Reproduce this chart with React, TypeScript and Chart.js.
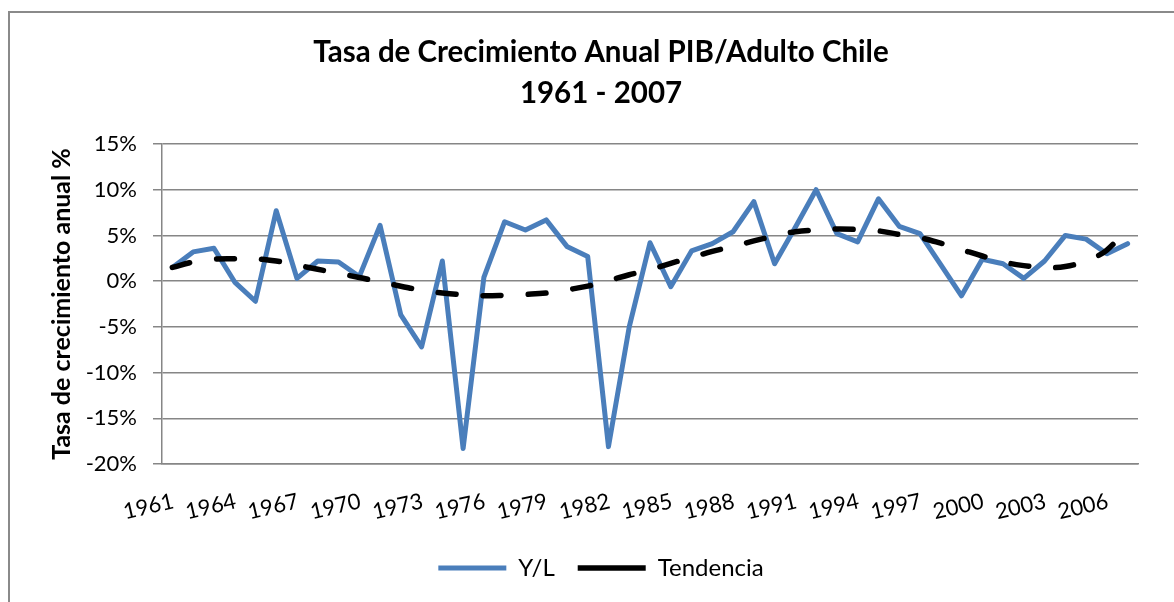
import React, { useEffect, useRef } from 'react';
import { Chart, registerables } from 'chart.js';

Chart.register(...registerables);

const years = [
  '1961', '1962', '1963', '1964', '1965', '1966', '1967', '1968', '1969', '1970',
  '1971', '1972', '1973', '1974', '1975', '1976', '1977', '1978', '1979', '1980',
  '1981', '1982', '1983', '1984', '1985', '1986', '1987', '1988', '1989', '1990',
  '1991', '1992', '1993', '1994', '1995', '1996', '1997', '1998', '1999', '2000',
  '2001', '2002', '2003', '2004', '2005', '2006', '2007',
];

const tickYears = [
  '1961', '1964', '1967', '1970', '1973', '1976', '1979', '1982',
  '1985', '1988', '1991', '1994', '1997', '2000', '2003', '2006',
];

const ylValues = [
  1.5, 3.2, 3.6, -0.1, -2.2, 7.7, 0.3, 2.2, 2.1, 0.5,
  6.1, -3.7, -7.2, 2.2, -18.3, 0.4, 6.5, 5.6, 6.7, 3.8,
  2.7, -18.1, -5.0, 4.2, -0.6, 3.3, 4.1, 5.4, 8.7, 1.9,
  5.9, 10.0, 5.2, 4.3, 9.0, 6.0, 5.2, 1.8, -1.6, 2.4,
  1.9, 0.3, 2.2, 5.0, 4.6, 3.0, 4.1,
];

const trendValues = [
  1.5, 2.1, 2.4, 2.45, 2.45, 2.2, 1.75, 1.3, 0.85, 0.4,
  -0.1, -0.55, -1.0, -1.3, -1.5, -1.6, -1.55, -1.45, -1.3, -0.95,
  -0.55, 0.05, 0.7, 1.25, 1.95, 2.6, 3.25, 3.8, 4.4, 4.95,
  5.4, 5.6, 5.7, 5.65, 5.5, 5.1, 4.75, 4.15, 3.45, 2.75,
  2.1, 1.7, 1.5, 1.6, 2.25, 3.4, 5.95,
];

const titleLines = ['Tasa de Crecimiento Anual PIB/Adulto Chile', '1961 - 2007'];
const yAxisTitle = 'Tasa de crecimiento anual %';
const seriesNames = ['Y/L', 'Tendencia'];

const FONT = 'Lato, "Open Sans", sans-serif';
const GRID = '#868686';

export default function App() {
  const ref = useRef<HTMLCanvasElement>(null);

  useEffect(() => {
    const chart = new Chart(ref.current as HTMLCanvasElement, {
      type: 'line',
      data: {
        labels: years,
        datasets: [
          {
            label: seriesNames[0],
            data: ylValues,
            borderColor: '#4A7EBB',
            backgroundColor: '#4A7EBB',
            borderWidth: 5,
            pointRadius: 0,
            tension: 0,
            borderCapStyle: 'round',
            borderJoinStyle: 'round',
            order: 1,
          },
          {
            label: seriesNames[1],
            data: trendValues,
            borderColor: '#000000',
            backgroundColor: '#000000',
            borderWidth: 5.5,
            borderDash: [18, 27],
            pointRadius: 0,
            tension: 0.4,
            borderCapStyle: 'round',
            order: 0,
          },
        ],
      },
      options: {
        responsive: false,
        animation: false,
        layout: { padding: { top: 12, left: 64, right: 36, bottom: 12 } },
        plugins: {
          title: {
            display: true,
            text: titleLines,
            color: '#000',
            font: { family: FONT, size: 29.5, weight: 'bold', lineHeight: 1.39 },
            padding: { top: 20, bottom: 30 },
          },
          legend: {
            position: 'bottom',
            labels: {
              usePointStyle: true,
              pointStyle: 'line',
              pointStyleWidth: 68,
              padding: 23,
              color: '#000',
              font: { family: FONT, size: 24 },
              sort: (a: any, b: any) => a.datasetIndex - b.datasetIndex,
            },
          },
          tooltip: { enabled: false },
        },
        scales: {
          x: {
            offset: true,
            grid: { display: false },
            border: { display: true, color: GRID, width: 1.5 },
            ticks: {
              autoSkip: false,
              minRotation: 13,
              maxRotation: 13,
              padding: 16,
              labelOffset: 1,
              color: '#000',
              font: { family: FONT, size: 22 },
              callback: (_v: any, idx: number) =>
                tickYears.includes(years[idx]) ? years[idx] : null,
            },
            afterFit: (s: any) => {
              s.height = 69;
            },
          },
          y: {
            min: -20,
            max: 15,
            ticks: {
              stepSize: 5,
              padding: 16,
              color: '#000',
              font: { family: FONT, size: 22 },
              callback: (v: any) => v + '%',
            },
            grid: { color: GRID, lineWidth: 1.5, tickLength: 9, drawTicks: true },
            border: { display: true, color: GRID, width: 1.5 },
            title: {
              display: true,
              text: yAxisTitle,
              color: '#000',
              font: { family: FONT, size: 25, weight: 'bold', lineHeight: 1.2 },
              padding: { top: -17, bottom: 0 },
            },
            afterFit: (s: any) => {
              s.width = 98;
            },
          },
        },
      },
    } as any);
    return () => chart.destroy();
  }, []);

  return (
    <div
      style={{
        position: 'fixed',
        left: 0,
        top: 0,
        width: 1174,
        height: 602,
        overflow: 'hidden',
        background: '#fff',
      }}
    >
      <div
        style={{
          position: 'absolute',
          left: 8,
          top: 11,
          width: 2000,
          height: 2000,
          border: '2px solid #8a8a8a',
        }}
      />
      <canvas
        ref={ref}
        width={1174}
        height={602}
        style={{ position: 'absolute', left: 0, top: 0 }}
      />
    </div>
  );
}
